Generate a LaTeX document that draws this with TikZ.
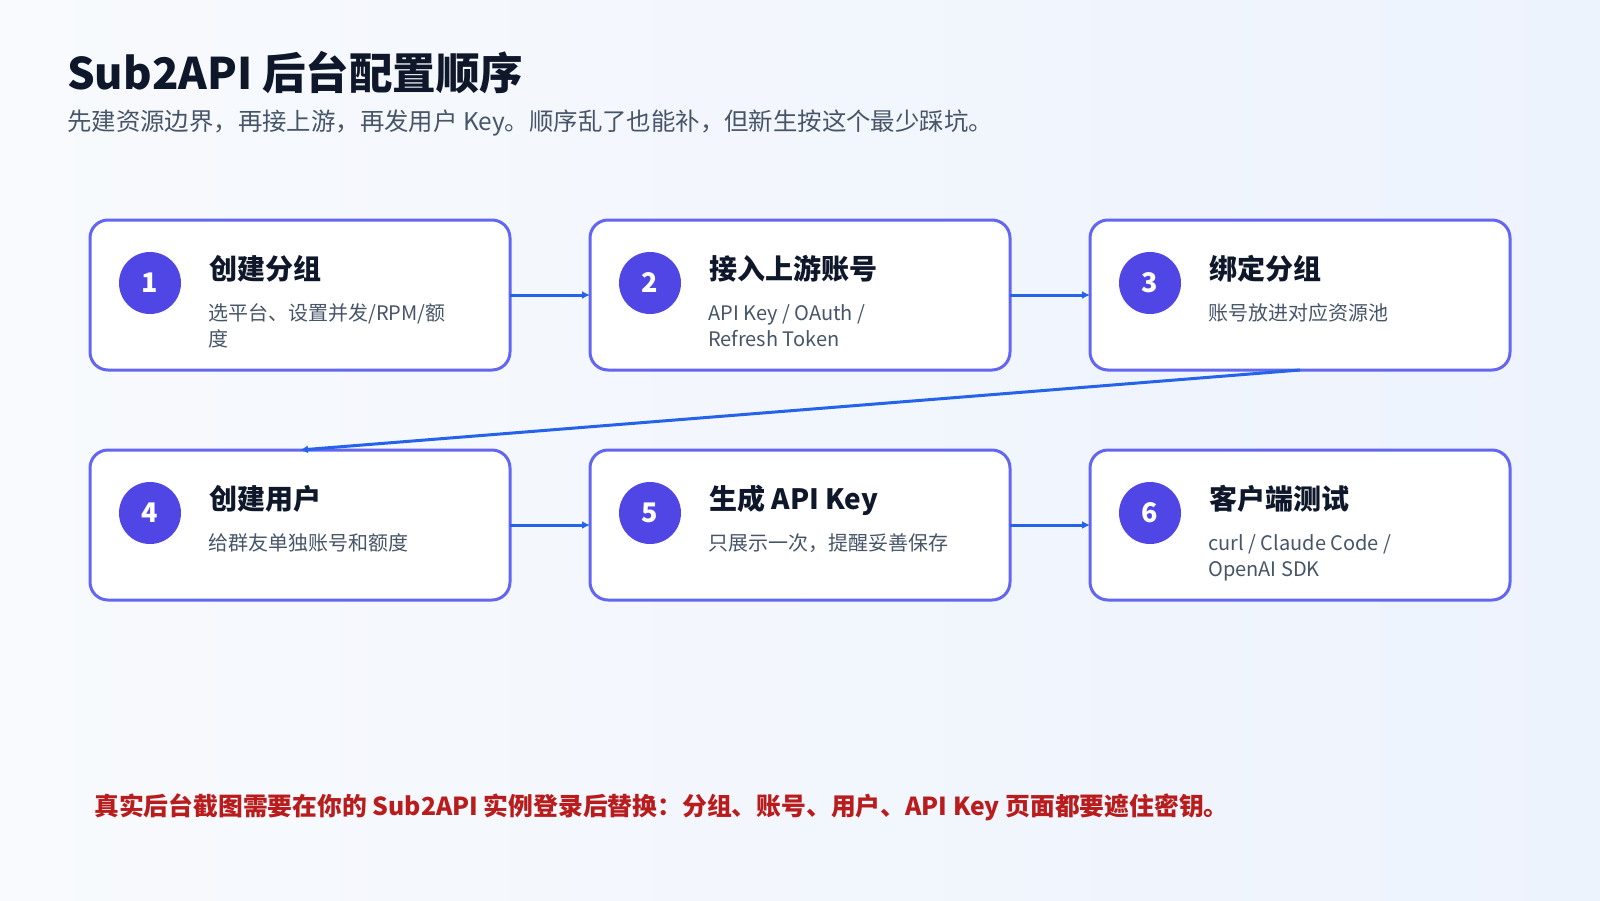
\documentclass[tikz,border=0pt]{standalone}
\usepackage{fontspec}
\setmainfont{Noto Sans CJK SC}
\usepackage{xcolor}
\usetikzlibrary{calc}
\usetikzlibrary{positioning}
\usetikzlibrary{arrows.meta}
\definecolor{bgleft}{HTML}{F8FAFD}
\definecolor{bgright}{HTML}{EDF3FD}
\definecolor{cardline}{HTML}{6366F1}
\definecolor{badgefill}{HTML}{4F46E5}
\definecolor{flowblue}{HTML}{2563EB}
\definecolor{inktitle}{HTML}{0F172A}
\definecolor{inkbody}{HTML}{475569}
\definecolor{warnred}{HTML}{B91C1C}
\tikzset{
  mycard/.style={
    draw=cardline,
    fill=white,
    shape=rectangle,
    line width=3pt,
    rounded corners=18pt,
    minimum width=420pt,
    minimum height=150pt,
    inner sep=0pt,
    outer sep=0pt,
  },
  mybadge/.style={
    fill=badgefill,
    shape=circle,
    minimum size=62pt,
    inner sep=0pt,
    text=white,
    font=\fontsize{27}{27}\selectfont\bfseries,
  },
  mytitle/.style={
    anchor=base west,
    inner sep=0pt,
    text=inktitle,
    font=\fontsize{28}{32}\selectfont\bfseries,
  },
  mytext/.style={
    anchor=base west,
    inner sep=0pt,
    align=left,
    text=inkbody,
    font=\fontsize{20}{26}\selectfont,
  },
  myarrow/.style={
    draw=flowblue,
    line width=3pt,
    -{Latex[length=8pt,width=8pt]},
  },
}
\begin{document}
\begin{tikzpicture}[x=1pt,y=-1pt]
  \shade[left color=bgleft, right color=bgright] (0,0) rectangle (1600,900);
  \useasboundingbox (0,0) rectangle (1600,900);

  % header
  \node[anchor=base west, inner sep=0pt, text=inktitle, font=\fontsize{43.5}{48}\selectfont\bfseries] (head) at (67,89) {Sub2API 后台配置顺序};
  \node[anchor=base west, inner sep=0pt, text=inkbody, font=\fontsize{24.4}{28}\selectfont] (lead) at (67,130) {先建资源边界，再接上游，再发用户 Key。顺序乱了也能补，但新生按这个最少踩坑。};

  % cards
  \node[mycard] (s1) at (300,295) {};
  \node[mycard] (s2) [right=80pt of s1] {};
  \node[mycard] (s3) [right=80pt of s2] {};
  \node[mycard] (s4) at (300,525) {};
  \node[mycard] (s5) [right=80pt of s4] {};
  \node[mycard] (s6) [right=80pt of s5] {};

  \node[mybadge] (n1) at ($(s1.north west)+(60,63)$) {1};
  \node[mybadge] (n2) at ($(s2.north west)+(60,63)$) {2};
  \node[mybadge] (n3) at ($(s3.north west)+(60,63)$) {3};
  \node[mybadge] (n4) at ($(s4.north west)+(60,63)$) {4};
  \node[mybadge] (n5) at ($(s5.north west)+(60,63)$) {5};
  \node[mybadge] (n6) at ($(s6.north west)+(60,63)$) {6};

  \node[mytitle] (t1) at ($(s1.north west)+(119,59)$) {创建分组};
  \node[mytitle] (t2) at ($(s2.north west)+(119,59)$) {接入上游账号};
  \node[mytitle] (t3) at ($(s3.north west)+(119,59)$) {绑定分组};
  \node[mytitle] (t4) at ($(s4.north west)+(119,59)$) {创建用户};
  \node[mytitle] (t5) at ($(s5.north west)+(119,59)$) {生成 API Key};
  \node[mytitle] (t6) at ($(s6.north west)+(119,59)$) {客户端测试};

  % two-line texts sit on their last line
  \node[mytext] (d1) at ($(s1.north west)+(118,126)$) {选平台、设置并发/RPM/额\\度};
  \node[mytext] (d2) at ($(s2.north west)+(118,126)$) {API Key / OAuth /\\Refresh Token};
  \node[mytext] (d3) at ($(s3.north west)+(118,100)$) {账号放进对应资源池};
  \node[mytext] (d4) at ($(s4.north west)+(118,100)$) {给群友单独账号和额度};
  \node[mytext] (d5) at ($(s5.north west)+(118,100)$) {只展示一次，提醒妥善保存};
  \node[mytext] (d6) at ($(s6.north west)+(118,126)$) {curl / Claude Code /\\OpenAI SDK};

  % flow
  \draw[myarrow] (s1) -- (s2);
  \draw[myarrow] (s2) -- (s3);
  \draw[myarrow] (s3.south) -- (s4.north);
  \draw[myarrow] (s4) -- (s5);
  \draw[myarrow] (s5) -- (s6);

  % footer
  \node[anchor=base west, inner sep=0pt, text=warnred, font=\fontsize{24.8}{30}\selectfont\bfseries] (note) at (94,815) {真实后台截图需要在你的 Sub2API 实例登录后替换：分组、账号、用户、API Key 页面都要遮住密钥。};
\end{tikzpicture}
\end{document}
